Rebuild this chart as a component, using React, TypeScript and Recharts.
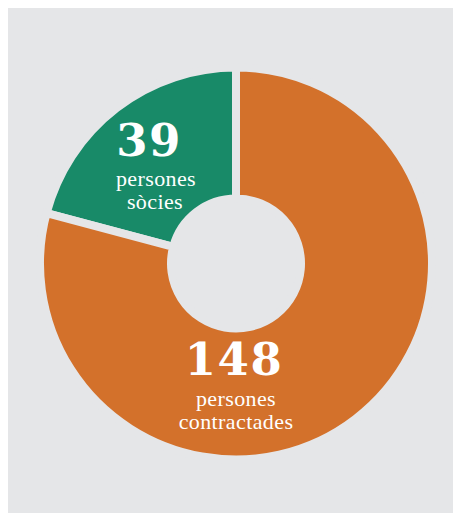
import { PieChart, Pie, Cell } from 'recharts';

// staff split
const groups = ['persones sòcies', 'persones contractades'];
const counts = [39, 148];
const groupLines = [
  ['persones', 'sòcies'],
  ['persones', 'contractades'],
];

const COLORS = ['#188a68', '#d3712b'];
const BG = '#e5e6e8';

const data = groups.map((name, i) => ({ name, value: counts[i] }));

// text offsets from the pie centre: [number, line1, line2] as [dx, dy]
const LABEL_OFFSETS = [
  [[-87, -108], [-80, -78], [-81, -55]],
  [[-2, 111], [0, 142], [0, 165]],
];

const renderLabel = (props: any) => {
  const { cx, cy, index, value } = props;
  const off = LABEL_OFFSETS[index];
  const lines = groupLines[index];
  return (
    <g>
      <text
        x={cx + off[0][0]}
        y={cy + off[0][1]}
        textAnchor="middle"
        fill="#ffffff"
        fontFamily="'DejaVu Serif', serif"
        fontWeight="bold"
        fontSize={45}
        letterSpacing={1.5}
      >
        {value}
      </text>
      {lines.map((ln, i) => (
        <text
          key={ln}
          x={cx + off[i + 1][0]}
          y={cy + off[i + 1][1]}
          textAnchor="middle"
          fill="#ffffff"
          fontFamily="'Liberation Serif', serif"
          fontSize={22}
          letterSpacing={0.4}
        >
          {ln}
        </text>
      ))}
    </g>
  );
};

export default function App() {
  return (
    <div style={{ width: 453, height: 505, background: BG }}>
      <PieChart width={453} height={505} margin={{ top: 0, right: 0, bottom: 0, left: 0 }}>
        <Pie
          data={data}
          dataKey="value"
          nameKey="name"
          cx={228}
          cy={255.5}
          innerRadius={65}
          outerRadius={196}
          startAngle={90}
          endAngle={450}
          stroke={BG}
          strokeWidth={8}
          label={renderLabel}
          labelLine={false}
          isAnimationActive={false}
        >
          {data.map((d, i) => (
            <Cell key={d.name} fill={COLORS[i]} />
          ))}
        </Pie>
      </PieChart>
    </div>
  );
}
